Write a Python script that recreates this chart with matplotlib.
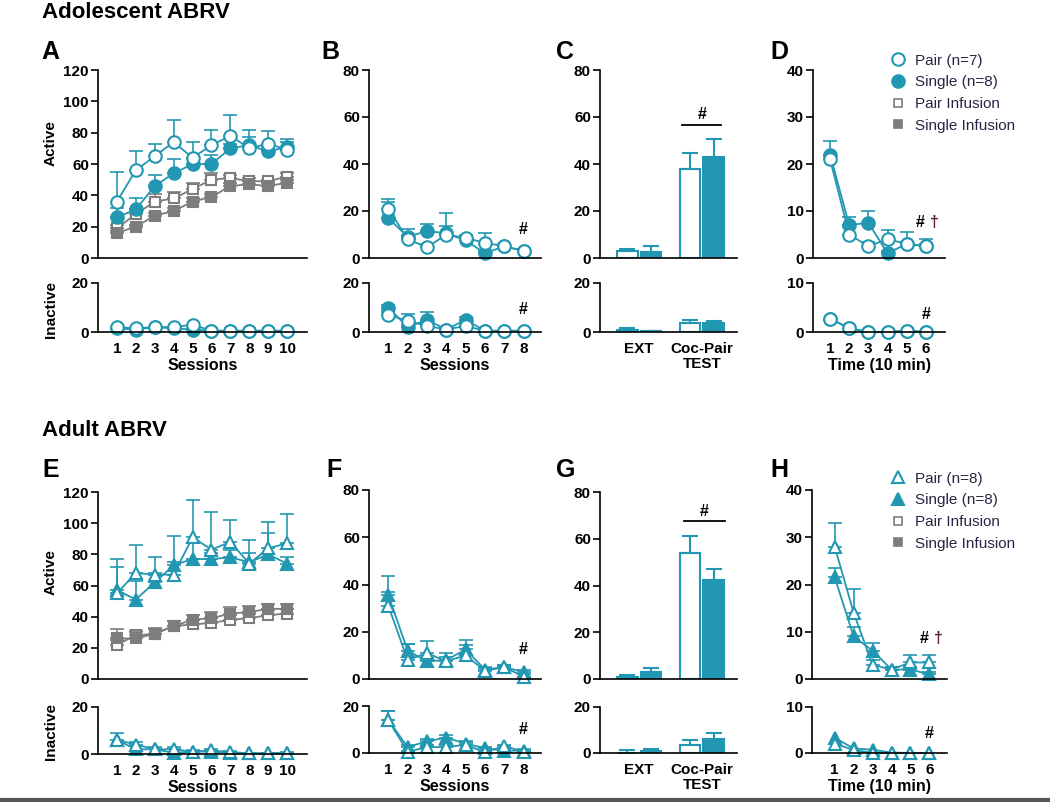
import numpy as np
import matplotlib
matplotlib.use("Agg")
import matplotlib.pyplot as plt
from matplotlib.lines import Line2D

plt.rcParams['font.family'] = ['Liberation Sans', 'DejaVu Sans']

TEAL = '#2297b1'
GRAY = '#7d7d7d'

# ---- Adolescent ----
a_sessions = np.arange(1, 11)
a_pair = [36, 56, 65, 74, 64, 72, 78, 70, 73, 69]
a_pair_err = [19, 12, 8, 14, 10, 10, 13, 12, 8, 7]
a_single = [26, 31, 46, 54, 60, 60, 70, 72, 68, 71]
a_single_err = [6, 7, 7, 9, 3, 6, 3, 5, 3, 3]
a_pair_inf = [19, 28, 36, 38, 44, 50, 51, 49, 49, 52]
a_pair_inf_err = [2, 3, 5, 4, 4, 4, 2, 2, 1, 2]
a_single_inf = [16, 20, 27, 30, 36, 39, 46, 47, 46, 48]
a_single_inf_err = [1, 1, 2, 2, 2, 2, 2, 2, 2, 2]
a_pair_in = [2, 1.5, 2, 2, 3, 0.5, 0.5, 0.5, 0.5, 0.5]
a_single_in = [1.5, 1, 2, 1.5, 1, 0.5, 0.5, 0.5, 0.5, 0.5]

b_sessions = np.arange(1, 9)
b_pair = [21, 8, 4.5, 10, 8.5, 6.5, 5, 3]
b_pair_err = [4, 2, 1.5, 9, 1.5, 4, 1, 1]
b_single = [17, 9, 11.5, 10.5, 7.5, 2, 5, 3]
b_single_err = [7, 3.5, 3, 3, 1.5, 1, 0.5, 0.5]
b_pair_in = [7, 4.5, 2.5, 1, 2.5, 0.5, 0.5, 0.5]
b_pair_in_err = [1, 3, 1, 0.5, 0.5, 0.3, 0.3, 0.3]
b_single_in = [10, 2, 5, 1, 5, 0.5, 0.5, 0.5]
b_single_in_err = [1, 1, 3, 0.5, 1, 0.3, 0.3, 0.3]

bar_groups = ['EXT', 'Coc-Pair\nTEST']
c_pair = [3, 38]
c_pair_err = [1, 6.5]
c_single = [2.5, 43]
c_single_err = [2.5, 7.5]
c_pair_in = [1, 3.5]
c_pair_in_err = [0.5, 1.5]
c_single_in = [0.3, 3.5]
c_single_in_err = [0.2, 1]

d_time = np.arange(1, 7)
d_pair = [21, 5, 2.5, 4, 3, 2.5]
d_pair_err = [1, 1.5, 1, 2, 2.5, 1.5]
d_single = [22, 7, 7.5, 1, 3, 2.5]
d_single_err = [3, 1.7, 2.5, 0.5, 0.5, 0.5]
d_pair_in = [2.7, 0.8, 0, 0, 0.3, 0]
d_single_in = [2.7, 0.8, 0, 0, 0.2, 0]

# ---- Adult ----
e_pair = [55, 68, 67, 67, 91, 83, 88, 74, 84, 87]
e_pair_err = [22, 18, 11, 8, 24, 24, 14, 15, 17, 19]
e_single = [57, 51, 62, 73, 77, 77, 78, 75, 80, 74]
e_single_err = [15, 12, 6, 19, 10, 4, 5, 6, 14, 4]
e_pair_inf = [22, 28, 29, 34, 35, 36, 38, 39, 41, 42]
e_pair_inf_err = [3, 3, 3, 3, 3, 3, 3, 3, 3, 3]
e_single_inf = [26, 26, 29, 34, 38, 39, 42, 43, 45, 45]
e_single_inf_err = [6, 4, 4, 3, 3, 4, 4, 4, 3, 3]
e_pair_in = [6, 4, 2, 2, 1, 1.5, 0.8, 0.3, 0.3, 0.5]
e_pair_in_err = [3, 1, 1, 1, 0.5, 0.5, 0.5, 0.3, 0.3, 0.3]
e_single_in = [6, 2, 2, 0.5, 1, 1, 0.5, 0.3, 0.3, 0.5]

f_pair = [31, 8, 11, 7.5, 10, 3.5, 5, 1]
f_pair_err = [6, 7, 5, 3.5, 6.5, 1, 1, 1]
f_single = [35.5, 12, 7.5, 8, 12.5, 4, 5, 3]
f_single_err = [8, 3, 1.5, 1.5, 2, 1, 1, 1]
f_pair_in = [14, 0.5, 2.5, 2.5, 3.5, 0.3, 3, 0.5]
f_pair_in_err = [4, 0.5, 1, 1, 1, 0.3, 0.5, 0.3]
f_single_in = [14, 2.5, 5, 6.5, 4, 2, 1, 1]
f_single_in_err = [4, 1, 1, 1, 1, 0.5, 0.5, 0.5]

g_pair = [1, 54]
g_pair_err = [0.7, 7]
g_single = [3, 42.5]
g_single_err = [1.5, 4.5]
g_pair_in = [0.2, 3.6]
g_pair_in_err = [1.2, 2]
g_single_in = [0.7, 6]
g_single_in_err = [1, 2.6]

h_pair = [28, 14, 3, 2, 3.5, 3.5]
h_pair_err = [5, 5, 1, 0.5, 1.5, 1.5]
h_single = [21.5, 9, 6, 2, 2, 1]
h_single_err = [2, 2, 1.6, 0.5, 0.5, 0.5]
h_pair_in = [2, 0.7, 0, 0, 0, 0]
h_single_in = [3.3, 1, 0.7, 0.1, 0, 0]

W, H = 1050, 802
fig = plt.figure(figsize=(W / 100, H / 100), dpi=100)


def px_axes(l, t, r, b):
    return fig.add_axes([l / W, 1 - b / H, (r - l) / W, (b - t) / H])


def style(ax, ylim, yticks, xlim, xticks=None, xlabels=None):
    for s in ['top', 'right']:
        ax.spines[s].set_visible(False)
    for s in ['left', 'bottom']:
        ax.spines[s].set_linewidth(1.2)
    ax.set_ylim(*ylim)
    ax.set_xlim(*xlim)
    ax.set_yticks(yticks)
    ax.tick_params(axis='y', length=5, width=1.2, pad=1.5, labelsize=11)
    for lab in ax.get_yticklabels():
        lab.set_fontweight('bold')
    if xticks is None:
        ax.set_xticks([])
    else:
        ax.set_xticks(xticks)
        ax.set_xticklabels(xlabels if xlabels is not None else [str(v) for v in xticks],
                           fontweight='bold', fontsize=11, linespacing=1.15)
        ax.tick_params(axis='x', length=0, pad=7)


def series(ax, x, y, err, color, marker, filled, ms=9):
    if err is not None:
        ax.errorbar(x, y, yerr=[np.zeros(len(err)), err], fmt='none', ecolor=color,
                     elinewidth=1.2, capsize=5, capthick=1.2, clip_on=False)
    ax.plot(x, y, color=color, lw=1.3, marker=marker, ms=ms,
            mfc=color if filled else 'white', mec=color, mew=1.5, clip_on=False)


def bars(ax, pair, pair_err, single, single_err):
    centers = np.array([2.0, 5.2])
    ax.bar(centers - 0.6, pair, width=1.05, color='white', edgecolor=TEAL, lw=1.5)
    ax.bar(centers + 0.6, single, width=1.05, color=TEAL, edgecolor=TEAL, lw=1.5)
    ax.errorbar(centers - 0.6, pair, yerr=[[0, 0], pair_err], fmt='none', ecolor=TEAL,
                elinewidth=1.5, capsize=6, capthick=1.5)
    ax.errorbar(centers + 0.6, single, yerr=[[0, 0], single_err], fmt='none', ecolor=TEAL,
                elinewidth=1.5, capsize=6, capthick=1.5)
    return centers


def session_panel(top_box, bot_box, x, xlim, ylim_top, yticks_top, ylim_bot, yticks_bot,
                  pair, pair_err, single, single_err, pair_in, pair_in_err, single_in,
                  single_in_err, marker, inf=None):
    ax = px_axes(*top_box)
    style(ax, ylim_top, yticks_top, xlim)
    if inf is not None:
        series(ax, x, inf[0], inf[1], GRAY, 's', False, ms=6.5)
        series(ax, x, inf[2], inf[3], GRAY, 's', True, ms=6.5)
    series(ax, x, single, single_err, TEAL, marker, True)
    series(ax, x, pair, pair_err, TEAL, marker, False)
    axb = px_axes(*bot_box)
    style(axb, ylim_bot, yticks_bot, xlim, list(x))
    series(axb, x, single_in, single_in_err, TEAL, marker, True)
    series(axb, x, pair_in, pair_in_err, TEAL, marker, False)
    return ax, axb


hb = dict(fontweight='bold', fontsize=11.5, ha='center', va='center')

# ---------- Adolescent row ----------
axA, axAb = session_panel((98, 70, 307, 258), (98, 283, 307, 332), a_sessions, (0, 11.05),
                          (0, 120), range(0, 121, 20), (0, 20), [0, 20],
                          a_pair, a_pair_err, a_single, a_single_err,
                          a_pair_in, None, a_single_in, None, 'o',
                          inf=(a_pair_inf, a_pair_inf_err, a_single_inf, a_single_inf_err))
axB, axBb = session_panel((369, 70, 541, 258), (369, 283, 541, 332), b_sessions, (0, 8.9),
                          (0, 80), range(0, 81, 20), (0, 20), [0, 20],
                          b_pair, b_pair_err, b_single, b_single_err,
                          b_pair_in, b_pair_in_err, b_single_in, b_single_in_err, 'o')
axB.text(8, 12, '#', **hb)
axBb.text(8, 9, '#', **hb)

axC = px_axes(600, 70, 737, 258)
style(axC, (0, 80), range(0, 81, 20), (0, 7))
bars(axC, c_pair, c_pair_err, c_single, c_single_err)
axC.plot([4.2, 6.2], [56.5, 56.5], color='black', lw=1.3)
axC.text(5.2, 61, '#', **hb)
axCb = px_axes(600, 283, 737, 332)
style(axCb, (0, 20), [0, 20], (0, 7), [2.0, 5.2], bar_groups)
bars(axCb, c_pair_in, c_pair_in_err, c_single_in, c_single_in_err)

axD, axDb = session_panel((813, 70, 945, 258), (813, 283, 945, 332), d_time, (0.11, 7.0),
                          (0, 40), range(0, 41, 10), (0, 10), [0, 10],
                          d_pair, d_pair_err, d_single, d_single_err,
                          d_pair_in, None, d_single_in, None, 'o')
axD.text(5.7, 7.6, '#', **hb)
axD.text(6.45, 7.6, '\u2020', color='#5a2030', **hb)
axDb.text(6, 3.5, '#', **hb)

# ---------- Adult row ----------
axE, axEb = session_panel((98, 492, 307, 679), (98, 707, 307, 754), a_sessions, (0, 11.05),
                          (0, 120), range(0, 121, 20), (0, 20), [0, 20],
                          e_pair, e_pair_err, e_single, e_single_err,
                          e_pair_in, e_pair_in_err, e_single_in, None, '^',
                          inf=(e_pair_inf, e_pair_inf_err, e_single_inf, e_single_inf_err))
axF, axFb = session_panel((369, 490, 541, 679), (369, 706, 541, 753), b_sessions, (0, 8.9),
                          (0, 80), range(0, 81, 20), (0, 20), [0, 20],
                          f_pair, f_pair_err, f_single, f_single_err,
                          f_pair_in, f_pair_in_err, f_single_in, f_single_in_err, '^')
axF.text(8, 12.5, '#', **hb)
axFb.text(8, 10, '#', **hb)

axG = px_axes(600, 492, 737, 679)
style(axG, (0, 80), range(0, 81, 20), (0, 7))
bars(axG, g_pair, g_pair_err, g_single, g_single_err)
axG.plot([4.3, 6.4], [67.5, 67.5], color='black', lw=1.3)
axG.text(5.3, 71.5, '#', **hb)
axGb = px_axes(600, 707, 737, 753)
style(axGb, (0, 20), [0, 20], (0, 7), [2.0, 5.2], bar_groups)
bars(axGb, g_pair_in, g_pair_in_err, g_single_in, g_single_in_err)

axH, axHb = session_panel((812, 490, 947, 679), (812, 707, 947, 753), d_time, (-0.2, 6.93),
                          (0, 40), range(0, 41, 10), (0, 10), [0, 10],
                          h_pair, h_pair_err, h_single, h_single_err,
                          h_pair_in, None, h_single_in, None, '^')
axH.text(5.7, 8.5, '#', **hb)
axH.text(6.5, 8.5, '\u2020', color='#5a2030', **hb)
axHb.text(6, 4.2, '#', **hb)

# ---------- labels ----------
for bot_ax in [axAb, axBb, axEb, axFb]:
    bot_ax.set_xlabel('Sessions', fontweight='bold', fontsize=11.5, labelpad=1.5)
for bot_ax in [axDb, axHb]:
    bot_ax.set_xlabel('Time (10 min)', fontweight='bold', fontsize=11.5, labelpad=1.5)

for y_act, y_in in [(143, 310), (572, 732)]:
    fig.text(51 / W, 1 - y_act / H, 'Active', rotation=90, fontweight='bold', fontsize=11,
             ha='center', va='center')
    fig.text(51 / W, 1 - y_in / H, 'Inactive', rotation=90, fontweight='bold', fontsize=11,
             ha='center', va='center')

fig.text(42 / W, 1 - 13 / H, 'Adolescent ABRV', fontweight='bold', fontsize=16, va='center')
fig.text(42 / W, 1 - 431 / H, 'Adult ABRV', fontweight='bold', fontsize=16, va='center')
for letter, x, y in [('A', 41, 52), ('B', 321, 52), ('C', 556, 52), ('D', 770, 52),
                     ('E', 42, 470), ('F', 326, 470), ('G', 556, 470), ('H', 770, 470)]:
    fig.text(x / W, 1 - y / H, letter, fontweight='bold', fontsize=18, va='center')

# ---------- legends ----------
for top_y, mk, lab_p, lab_s in [(46, 'o', 'Pair (n=7)', 'Single (n=8)'),
                                (464, '^', 'Pair (n=8)', 'Single (n=8)')]:
    handles = [
        Line2D([], [], ls='none', marker=mk, ms=9, mfc='white', mec=TEAL, mew=1.5),
        Line2D([], [], ls='none', marker=mk, ms=9, mfc=TEAL, mec=TEAL, mew=1.5),
        Line2D([], [], ls='none', marker='s', ms=6, mfc='white', mec=GRAY, mew=1.2),
        Line2D([], [], ls='none', marker='s', ms=6, mfc=GRAY, mec=GRAY, mew=1.2),
    ]
    fig.legend(handles, [lab_p, lab_s, 'Pair Infusion', 'Single Infusion'],
               loc='upper left', bbox_to_anchor=(883 / W, 1 - top_y / H), frameon=False,
               fontsize=11, handlelength=1.0, handletextpad=0.6, labelspacing=0.5,
               borderpad=0, labelcolor='#262645')

fig.add_artist(Line2D([0, 1], [1 - 799.5 / H, 1 - 799.5 / H], color='#555555', lw=3,
                      transform=fig.transFigure))

fig.savefig('out.png', dpi=100)
